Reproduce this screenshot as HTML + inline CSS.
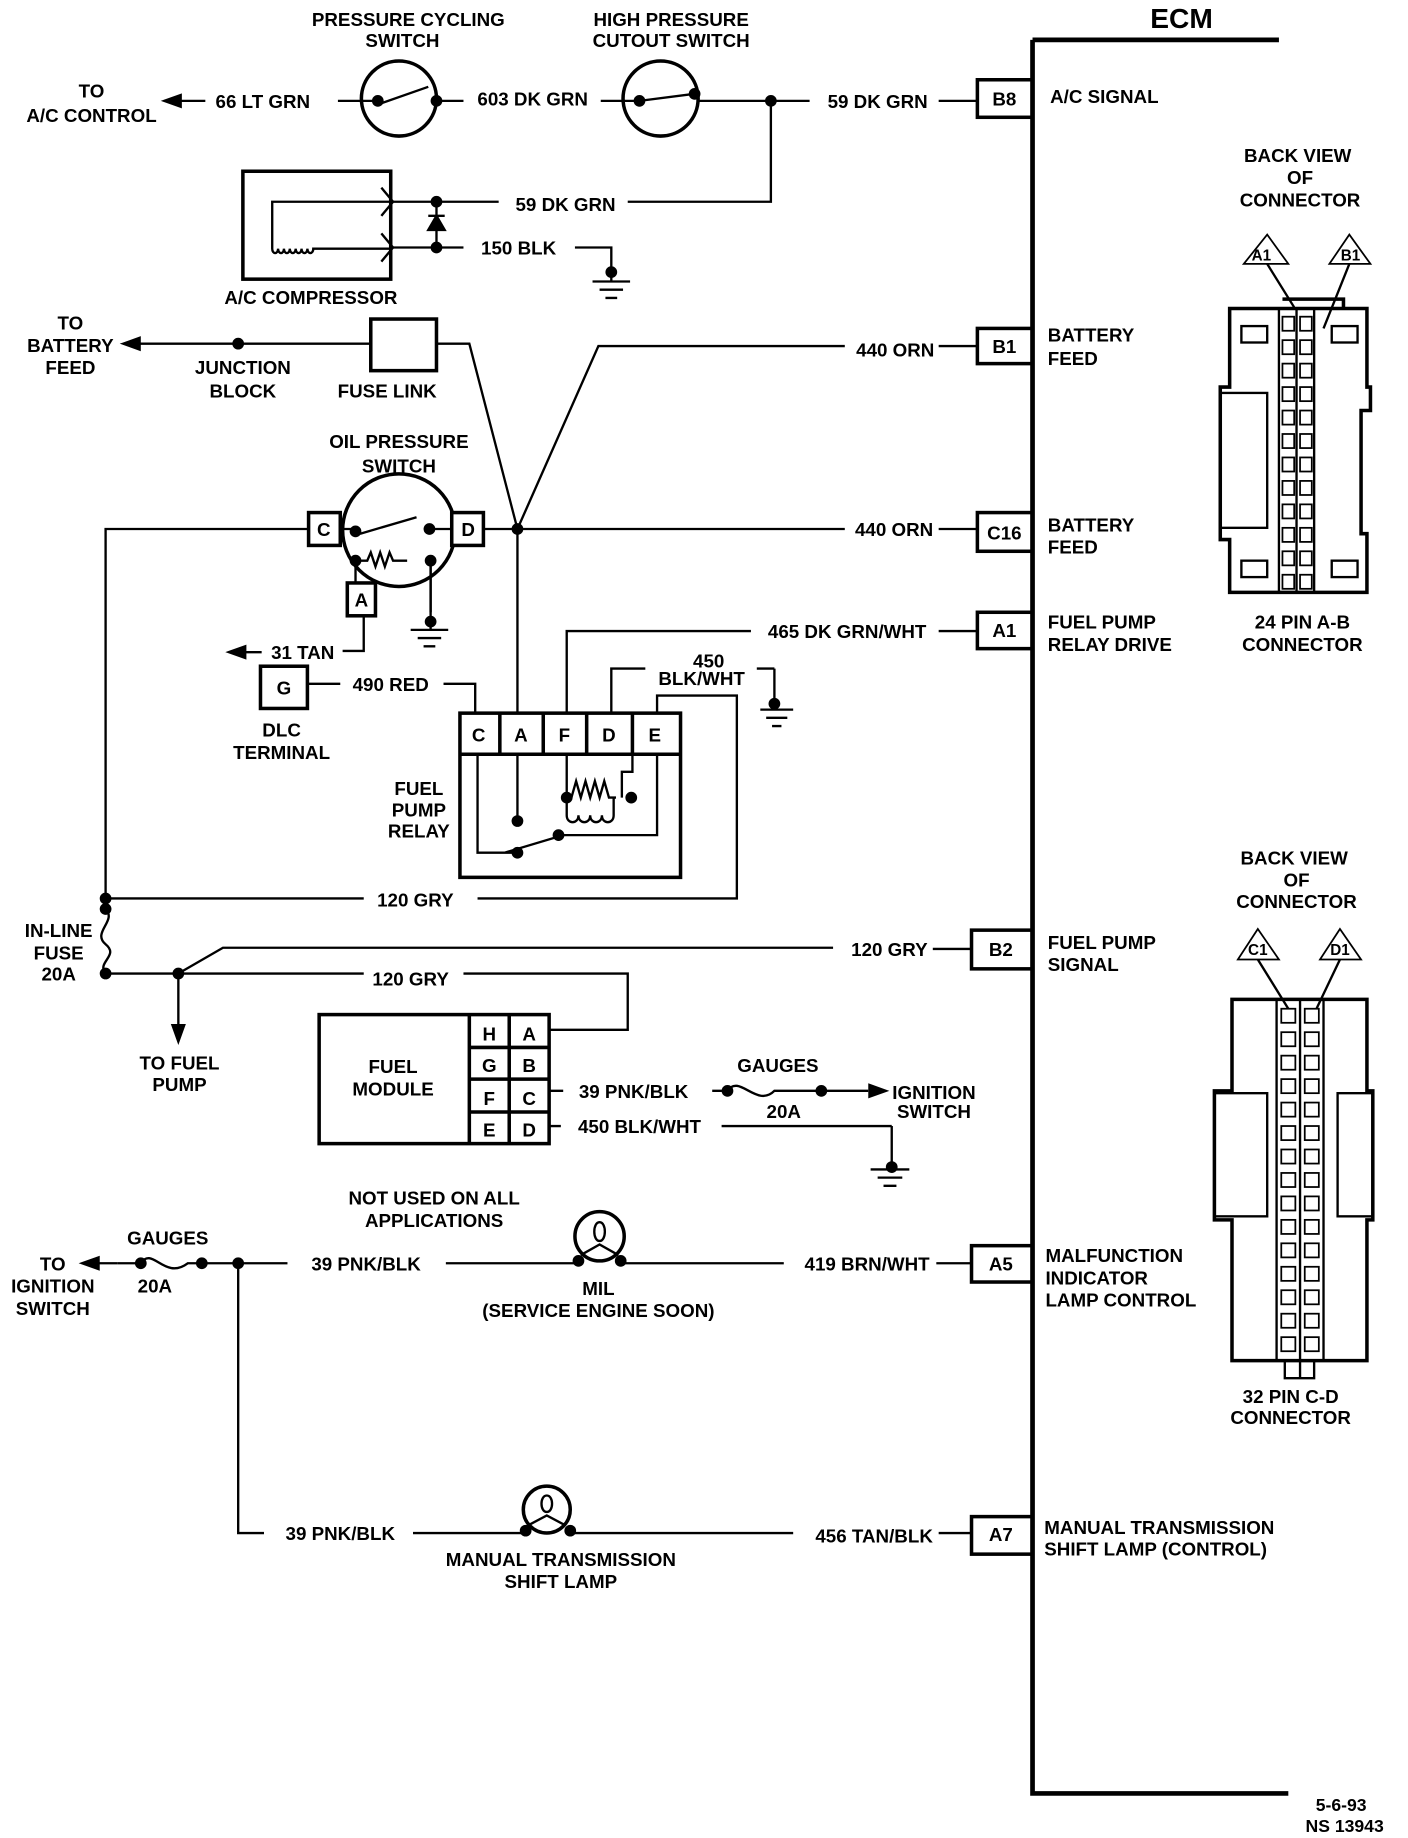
<!DOCTYPE html>
<html><head><meta charset="utf-8"><style>
html,body{margin:0;padding:0;background:#fff}
svg{display:block}
text{font-family:"Liberation Sans",sans-serif;font-weight:bold;font-size:16px;fill:#000}
.m{text-anchor:middle}
</style></head><body>
<svg width="1408" height="1838" viewBox="0 0 1200 1567" preserveAspectRatio="none" xmlns="http://www.w3.org/2000/svg">
<g fill="none" stroke="#000" stroke-width="2">
<path d="M880 34V1529H1098M880 34H1090" stroke-width="4"/>
<rect x="833" y="68" width="47" height="32" stroke-width="3"/>
<rect x="833" y="280" width="47" height="30" stroke-width="3"/>
<rect x="833" y="437" width="47" height="33" stroke-width="3"/>
<rect x="833" y="522" width="47" height="31" stroke-width="3"/>
<rect x="828" y="793" width="52" height="33" stroke-width="3"/>
<rect x="828" y="1062" width="52" height="31" stroke-width="3"/>
<rect x="828" y="1293" width="52" height="32" stroke-width="3"/>
<path d="M175 86H140M288 86H322M372 86H395M512 86H545M595 86H690M800 86H833"/>
<path d="M140 86l14-5v10z" fill="#000"/>
<circle cx="340" cy="84" r="32" stroke-width="3"/>
<circle cx="563" cy="84" r="32" stroke-width="3"/>
<path d="M325 88L365 74M545 86L592 80"/>
<path d="M657 86V172H535M425 172H335M335 211H395M490 211H521V232"/>
<rect x="207" y="146" width="126" height="92" stroke-width="3"/>
<path d="M333 172H232V212M232 212c0 5 5 5 5 0c0 5 5 5 5 0c0 5 5 5 5 0c0 5 5 5 5 0c0 5 5 5 5 0c0 5 5 5 5 0c0 5 5 5 5 0H333M325 160L335 172L325 184M325 199L335 211L325 223" />
<path d="M372 172V211"/>
<path d="M365 196h14l-7-12z" fill="#000"/><path d="M365 184h14"/>
<path d="M505 240H537M511 247H531M516 254H526M350 537H382M356 544H376M361 551H371M648 605H676M653 612H671M658 619H666M742 997H775M748 1004H769M753 1011H764"/>
<path d="M521 232V240M367 478V537M660 570V605M760 960V997"/>
<path d="M140 293H316M105 293h35"/><path d="M105 293l14-5v10z" fill="#000"/>
<rect x="316" y="272" width="56" height="44" stroke-width="3"/>
<path d="M372 293H400L441 451L510 295H720M800 295H833"/>
<circle cx="340" cy="452" r="48" stroke-width="3"/>
<rect x="263" y="437" width="27" height="28" fill="#fff" stroke-width="3"/>
<rect x="385" y="437" width="27" height="28" fill="#fff" stroke-width="3"/>
<rect x="296" y="497" width="24" height="28" fill="#fff" stroke-width="3"/>
<path d="M263 451H90V775M412 451H720M800 451H833M290 451H303M366 451H385M307 455L355 441"/>
<path d="M303 478h10l3-7 4 12 4-12 4 12 4-12 3 7h12M303 478V497M367 478V522M310 525V555H292"/>
<path d="M195 556l14-5v10z" fill="#000"/><path d="M209 556h14"/>
<rect x="222" y="568" width="40" height="36" stroke-width="3"/>
<path d="M262 583H290M378 583H405V608M441 451V608"/>
<rect x="392" y="608" width="188" height="140" stroke-width="3"/>
<path d="M392 643H580M426 608V643M463 608V643M500 608V643M539 608V643" stroke-width="3"/>
<path d="M483 608V538H640M800 538H833M521 608V570H550M645 570H660M560 608V593H628V766H407M310 766H90"/>
<path d="M407 643V727H441M441 643V700M483 643V680M483 680h4l4-14 4 14 4-14 4 14 4-14 4 14 4-14 4 14h6M539 643V658H530V680M483 680v15c0 8 10 8 10 0c0 8 10 8 10 0c0 8 10 8 10 0c0 8 10 8 10 0v-15M560 643V690H560V712H480L430 727"/>
<path d="M90 775c10 10 -12 20 0 30c12 10 -8 15 0 25H310M395 830H535V878H468M152 830V875M152 830L190 808H710M795 809H828"/>
<path d="M152 888l-5-14h10z" fill="#000"/>
<rect x="272" y="865" width="196" height="110" stroke-width="3"/>
<path d="M400 865V975M434 865V975M400 893H468M400 920H468M400 948H468" stroke-width="3"/>
<path d="M468 930H480M607 930H620c10-15 25 15 40 0l20 0M680 930H740M468 960H478M615 960H760"/>
<path d="M755 930l-14-5v10z" fill="#000"/>
<path d="M100 1077H120c10-15 20 15 40 0H245M380 1077H493M528 1077H668M798 1077H828M203 1077V1307H225M352 1307H445M487 1307H676M800 1307H828"/>
<path d="M70 1077l14-5v10z" fill="#000"/><path d="M84 1077h16"/>
<circle cx="511" cy="1054" r="21" stroke-width="3"/>
<path d="M511 1042c-6 0-6 16 0 16c6 0 6-16 0-16M495 1070L511 1061L527 1070"/>
<circle cx="466" cy="1287" r="20" stroke-width="3"/>
<path d="M466 1275c-6 0-6 14 0 14c6 0 6-14 0-14M451 1300L466 1292L481 1300"/>
<path d="M1060 225L1080 200L1098 225ZM1133 225L1150 200L1168 225Z" stroke-width="1.5"/>
<path d="M1080 225L1103 262M1150 225L1128 280"/>
<path d="M1093 255H1145V262" stroke-width="3"/>
<path d="M1048 263H1165V330H1168V350H1160V455H1165V505H1048V460H1040V330H1048Z" stroke-width="3"/>
<rect x="1040" y="335" width="40" height="115" stroke-width="2"/>
<rect x="1058" y="278" width="22" height="14"/><rect x="1135" y="278" width="22" height="14"/>
<rect x="1058" y="478" width="22" height="14"/><rect x="1135" y="478" width="22" height="14"/>
<path d="M1090 263V505M1120 263V505M1105 263V505"/>
<g stroke-width="1.5">
<rect x="1093" y="270" width="10" height="12"/><rect x="1093" y="290" width="10" height="12"/><rect x="1093" y="310" width="10" height="12"/><rect x="1093" y="330" width="10" height="12"/><rect x="1093" y="350" width="10" height="12"/><rect x="1093" y="370" width="10" height="12"/><rect x="1093" y="390" width="10" height="12"/><rect x="1093" y="410" width="10" height="12"/><rect x="1093" y="430" width="10" height="12"/><rect x="1093" y="450" width="10" height="12"/><rect x="1093" y="470" width="10" height="12"/><rect x="1093" y="490" width="10" height="12"/>
<rect x="1108" y="270" width="10" height="12"/><rect x="1108" y="290" width="10" height="12"/><rect x="1108" y="310" width="10" height="12"/><rect x="1108" y="330" width="10" height="12"/><rect x="1108" y="350" width="10" height="12"/><rect x="1108" y="370" width="10" height="12"/><rect x="1108" y="390" width="10" height="12"/><rect x="1108" y="410" width="10" height="12"/><rect x="1108" y="430" width="10" height="12"/><rect x="1108" y="450" width="10" height="12"/><rect x="1108" y="470" width="10" height="12"/><rect x="1108" y="490" width="10" height="12"/>
</g>
<path d="M1055 818L1072 792L1090 818ZM1125 818L1142 792L1160 818Z" stroke-width="1.5"/>
<path d="M1072 818L1098 860M1142 818L1122 860"/>
<path d="M1050 852H1165V930H1170V1040H1165V1160H1050V1040H1035V930H1050Z" stroke-width="3"/>
<rect x="1035" y="932" width="45" height="105"/>
<rect x="1140" y="932" width="30" height="105"/>
<path d="M1088 852V1160M1128 852V1160M1108 852V1175M1095 1160V1175H1120V1160" />
<g stroke-width="1.5">
<rect x="1092" y="860" width="12" height="12"/><rect x="1092" y="880" width="12" height="12"/><rect x="1092" y="900" width="12" height="12"/><rect x="1092" y="920" width="12" height="12"/><rect x="1092" y="940" width="12" height="12"/><rect x="1092" y="960" width="12" height="12"/><rect x="1092" y="980" width="12" height="12"/><rect x="1092" y="1000" width="12" height="12"/><rect x="1092" y="1020" width="12" height="12"/><rect x="1092" y="1040" width="12" height="12"/><rect x="1092" y="1060" width="12" height="12"/><rect x="1092" y="1080" width="12" height="12"/><rect x="1092" y="1100" width="12" height="12"/><rect x="1092" y="1120" width="12" height="12"/><rect x="1092" y="1140" width="12" height="12"/>
<rect x="1112" y="860" width="12" height="12"/><rect x="1112" y="880" width="12" height="12"/><rect x="1112" y="900" width="12" height="12"/><rect x="1112" y="920" width="12" height="12"/><rect x="1112" y="940" width="12" height="12"/><rect x="1112" y="960" width="12" height="12"/><rect x="1112" y="980" width="12" height="12"/><rect x="1112" y="1000" width="12" height="12"/><rect x="1112" y="1020" width="12" height="12"/><rect x="1112" y="1040" width="12" height="12"/><rect x="1112" y="1060" width="12" height="12"/><rect x="1112" y="1080" width="12" height="12"/><rect x="1112" y="1100" width="12" height="12"/><rect x="1112" y="1120" width="12" height="12"/><rect x="1112" y="1140" width="12" height="12"/>
</g>
</g>
<g fill="#000">
<circle cx="322" cy="86" r="5"/><circle cx="372" cy="86" r="5"/><circle cx="545" cy="86" r="5"/><circle cx="592" cy="80" r="5"/><circle cx="657" cy="86" r="5"/>
<circle cx="372" cy="172" r="5"/><circle cx="372" cy="211" r="5"/><circle cx="521" cy="232" r="5"/>
<circle cx="203" cy="293" r="5"/><circle cx="441" cy="451" r="5"/>
<circle cx="303" cy="453" r="5"/><circle cx="366" cy="451" r="5"/><circle cx="303" cy="478" r="5"/><circle cx="367" cy="478" r="5"/><circle cx="367" cy="530" r="5"/>
<circle cx="441" cy="700" r="5"/><circle cx="441" cy="727" r="5"/><circle cx="476" cy="712" r="5"/><circle cx="483" cy="680" r="5"/><circle cx="538" cy="680" r="5"/><circle cx="660" cy="600" r="5"/>
<circle cx="90" cy="766" r="5"/><circle cx="90" cy="775" r="5"/><circle cx="90" cy="830" r="5"/><circle cx="152" cy="830" r="5"/>
<circle cx="620" cy="930" r="5"/><circle cx="700" cy="930" r="5"/><circle cx="760" cy="995" r="5"/>
<circle cx="120" cy="1077" r="5"/><circle cx="172" cy="1077" r="5"/><circle cx="203" cy="1077" r="5"/>
<circle cx="493" cy="1075" r="5"/><circle cx="529" cy="1075" r="5"/><circle cx="448" cy="1305" r="5"/><circle cx="486" cy="1305" r="5"/>
</g>
<text x="1007" y="24" class="m" style="font-size:24px">ECM</text>
<text x="348" y="22" class="m">PRESSURE CYCLING</text><text x="343" y="40" class="m">SWITCH</text>
<text x="572" y="22" class="m">HIGH PRESSURE</text><text x="572" y="40" class="m">CUTOUT SWITCH</text>
<text x="78" y="83" class="m">TO</text><text x="78" y="104" class="m">A/C CONTROL</text>
<text x="224" y="92" class="m">66 LT GRN</text><text x="454" y="90" class="m">603 DK GRN</text><text x="748" y="92" class="m">59 DK GRN</text>
<text x="856" y="90" class="m">B8</text><text x="895" y="88">A/C  SIGNAL</text>
<text x="482" y="180" class="m">59 DK GRN</text><text x="442" y="217" class="m">150 BLK</text>
<text x="265" y="259" class="m">A/C COMPRESSOR</text>
<text x="60" y="281" class="m">TO</text><text x="60" y="300" class="m">BATTERY</text><text x="60" y="319" class="m">FEED</text>
<text x="207" y="319" class="m">JUNCTION</text><text x="207" y="339" class="m">BLOCK</text><text x="330" y="339" class="m">FUSE LINK</text>
<text x="763" y="304" class="m">440 ORN</text><text x="856" y="301" class="m">B1</text>
<text x="893" y="291">BATTERY</text><text x="893" y="311">FEED</text>
<text x="340" y="382" class="m">OIL PRESSURE</text><text x="340" y="403" class="m">SWITCH</text>
<text x="276" y="457" class="m">C</text><text x="399" y="457" class="m">D</text><text x="308" y="517" class="m">A</text>
<text x="762" y="457" class="m">440 ORN</text><text x="856" y="460" class="m">C16</text>
<text x="893" y="453">BATTERY</text><text x="893" y="472">FEED</text>
<text x="722" y="544" class="m">465 DK GRN/WHT</text><text x="856" y="543" class="m">A1</text>
<text x="893" y="536">FUEL PUMP</text><text x="893" y="555">RELAY DRIVE</text>
<text x="258" y="562" class="m">31 TAN</text>
<text x="242" y="592" class="m">G</text><text x="333" y="589" class="m">490 RED</text>
<text x="604" y="569" class="m">450</text><text x="598" y="584" class="m">BLK/WHT</text>
<text x="240" y="628" class="m">DLC</text><text x="240" y="647" class="m">TERMINAL</text>
<text x="408" y="632" class="m">C</text><text x="444" y="632" class="m">A</text><text x="481" y="632" class="m">F</text><text x="519" y="632" class="m">D</text><text x="558" y="632" class="m">E</text>
<text x="357" y="678" class="m">FUEL</text><text x="357" y="696" class="m">PUMP</text><text x="357" y="714" class="m">RELAY</text>
<text x="354" y="773" class="m">120 GRY</text>
<text x="50" y="799" class="m">IN-LINE</text><text x="50" y="818" class="m">FUSE</text><text x="50" y="836" class="m">20A</text>
<text x="758" y="815" class="m">120 GRY</text><text x="853" y="815" class="m">B2</text>
<text x="893" y="809">FUEL PUMP</text><text x="893" y="828">SIGNAL</text>
<text x="350" y="840" class="m">120 GRY</text>
<text x="153" y="912" class="m">TO FUEL</text><text x="153" y="930" class="m">PUMP</text>
<text x="335" y="915" class="m">FUEL</text><text x="335" y="934" class="m">MODULE</text>
<text x="417" y="887" class="m">H</text><text x="451" y="887" class="m">A</text><text x="417" y="914" class="m">G</text><text x="451" y="914" class="m">B</text>
<text x="417" y="942" class="m">F</text><text x="451" y="942" class="m">C</text><text x="417" y="969" class="m">E</text><text x="451" y="969" class="m">D</text>
<text x="540" y="936" class="m">39 PNK/BLK</text><text x="545" y="966" class="m">450 BLK/WHT</text>
<text x="663" y="914" class="m">GAUGES</text><text x="668" y="953" class="m">20A</text>
<text x="796" y="937" class="m">IGNITION</text><text x="796" y="953" class="m">SWITCH</text>
<text x="370" y="1027" class="m">NOT USED ON ALL</text><text x="370" y="1046" class="m">APPLICATIONS</text>
<text x="45" y="1083" class="m">TO</text><text x="45" y="1102" class="m">IGNITION</text><text x="45" y="1121" class="m">SWITCH</text>
<text x="143" y="1061" class="m">GAUGES</text><text x="132" y="1102" class="m">20A</text>
<text x="312" y="1083" class="m">39 PNK/BLK</text><text x="739" y="1083" class="m">419 BRN/WHT</text>
<text x="853" y="1083" class="m">A5</text>
<text x="891" y="1076">MALFUNCTION</text><text x="891" y="1095">INDICATOR</text><text x="891" y="1114">LAMP CONTROL</text>
<text x="510" y="1104" class="m">MIL</text><text x="510" y="1123" class="m">(SERVICE ENGINE SOON)</text>
<text x="290" y="1313" class="m">39 PNK/BLK</text><text x="745" y="1315" class="m">456 TAN/BLK</text>
<text x="853" y="1314" class="m">A7</text>
<text x="890" y="1308">MANUAL TRANSMISSION</text><text x="890" y="1326">SHIFT LAMP (CONTROL)</text>
<text x="478" y="1335" class="m">MANUAL TRANSMISSION</text><text x="478" y="1354" class="m">SHIFT LAMP</text>
<text x="1106" y="138" class="m">BACK VIEW</text><text x="1108" y="157" class="m">OF</text><text x="1108" y="176" class="m">CONNECTOR</text>
<text x="1075" y="222" class="m" style="font-size:13px">A1</text><text x="1151" y="222" class="m" style="font-size:13px">B1</text>
<text x="1110" y="536" class="m">24 PIN  A-B</text><text x="1110" y="555" class="m">CONNECTOR</text>
<text x="1103" y="737" class="m">BACK VIEW</text><text x="1105" y="756" class="m">OF</text><text x="1105" y="774" class="m">CONNECTOR</text>
<text x="1072" y="814" class="m" style="font-size:13px">C1</text><text x="1142" y="814" class="m" style="font-size:13px">D1</text>
<text x="1100" y="1196" class="m">32  PIN C-D</text><text x="1100" y="1214" class="m">CONNECTOR</text>
<text x="1143" y="1544" class="m" style="font-size:15px">5-6-93</text><text x="1146" y="1562" class="m" style="font-size:15px">NS 13943</text>
</svg>
</body></html>
